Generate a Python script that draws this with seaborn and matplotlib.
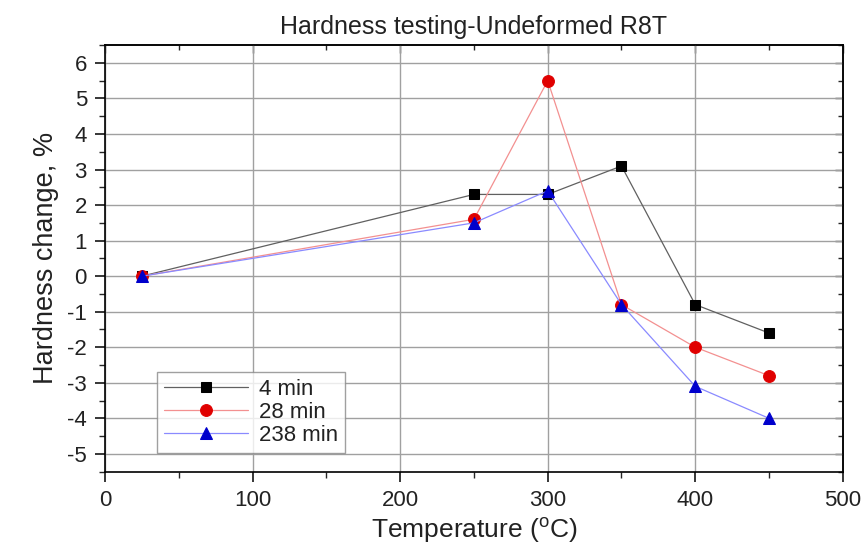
import numpy as np
import pandas as pd
import matplotlib
matplotlib.use("Agg")
import matplotlib.pyplot as plt
from matplotlib.ticker import MultipleLocator
import seaborn as sns

# ---- data ----
temperature = [25, 250, 300, 350, 400, 450]
hardness_4min = [0.0, 2.3, 2.3, 3.1, -0.8, -1.6]
hardness_28min = [0.0, 1.6, 5.5, -0.8, -2.0, -2.8]
hardness_238min = [0.0, 1.5, 2.4, -0.8, -3.1, -4.0]
series_labels = ["4 min", "28 min", "238 min"]

sns.set_style("white")
plt.rcParams['font.family'] = ['Liberation Sans', 'DejaVu Sans']
plt.rcParams['mathtext.fontset'] = 'custom'
plt.rcParams['mathtext.rm'] = 'Liberation Sans'
plt.rcParams['axes.unicode_minus'] = False

fig = plt.figure(figsize=(8.68, 5.44), dpi=100)
ax = fig.add_axes([0.121, 0.133, 0.850, 0.784])

styles = [
    ("s", "black", "#606060", 7.5),
    ("o", "#e00000", "#f39090", 8.5),
    ("^", "#0000cc", "#8a8aff", 8.5),
]
all_series = [hardness_4min, hardness_28min, hardness_238min]
for vals, label, (m, mc, lc, ms) in zip(all_series, series_labels, styles):
    sns.lineplot(x=temperature, y=vals, ax=ax, color=lc, linewidth=0.9,
                 marker=m, markersize=ms, markerfacecolor=mc,
                 markeredgecolor=mc, label=label, zorder=3)

ax.set_xlim(0, 500)
ax.set_ylim(-5.5, 6.5)
ax.xaxis.set_major_locator(MultipleLocator(100))
ax.xaxis.set_minor_locator(MultipleLocator(50))
ax.yaxis.set_major_locator(MultipleLocator(1))
ax.yaxis.set_minor_locator(MultipleLocator(0.5))
ax.grid(True, which='major', color='#a0a0a0', linewidth=1.0)
ax.set_axisbelow(True)

for s in ax.spines.values():
    s.set_color('black')
    s.set_linewidth(1.2)

ax.tick_params(which='both', bottom=True, left=True, top=False, right=False)
ax.tick_params(which='major', direction='out', length=7, width=1.1,
               labelsize=16, colors='black', labelcolor='#222222', pad=6)
ax.tick_params(which='minor', direction='out', length=4, width=1.0)

# top & right inward ticks
secx = ax.secondary_xaxis('top')
secx.xaxis.set_major_locator(MultipleLocator(100))
secx.xaxis.set_minor_locator(MultipleLocator(50))
secx.tick_params(which='both', top=True, labeltop=False)
secx.tick_params(which='major', direction='in', length=6, width=1.0)
secx.tick_params(which='minor', direction='in', length=3.5, width=1.0)
secx.spines['top'].set_linewidth(1.2)
secy = ax.secondary_yaxis('right')
secy.yaxis.set_major_locator(MultipleLocator(1))
secy.yaxis.set_minor_locator(MultipleLocator(0.5))
secy.tick_params(which='both', right=True, labelright=False)
secy.tick_params(which='major', direction='in', length=6, width=1.0)
secy.tick_params(which='minor', direction='in', length=3.5, width=1.0)
secy.spines['right'].set_linewidth(1.2)

ax.set_title("Hardness testing-Undeformed R8T", fontsize=18, color='#222222', pad=8)
ax.set_xlabel("Temperature ($^{\\mathrm{o}}$C)", fontsize=19, color='#222222', labelpad=3)
ax.set_ylabel("Hardness change, %", fontsize=19.5, color='#222222', labelpad=6)

leg = ax.legend(loc='lower left', bbox_to_anchor=(0.0705, 0.044), borderaxespad=0,
                frameon=True, fancybox=False, edgecolor='#888888', fontsize=16,
                handlelength=3.8, handletextpad=0.5, labelspacing=0.1,
                borderpad=0.3)
leg.get_frame().set_linewidth(1.0)
for t in leg.get_texts():
    t.set_color('#222222')

fig.savefig("out.png", dpi=100)
